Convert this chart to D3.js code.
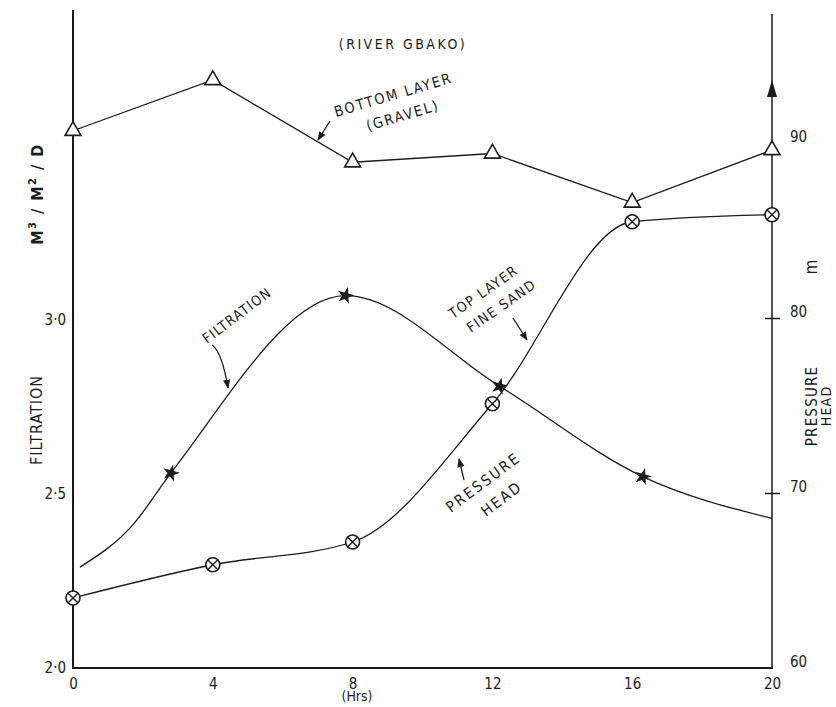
<!DOCTYPE html>
<html>
<head>
<meta charset="utf-8">
<script src="https://cdn.jsdelivr.net/npm/d3@7"></script>
<style>
  body { margin: 0; background: #fff; }
  svg text { font-family: "DejaVu Sans Condensed", "DejaVu Sans", sans-serif; fill: #1c1c1c; }
</style>
</head>
<body>
<svg id="chart" width="836" height="707"></svg>
<script>
'use strict'

// Hours of the run.
var hours      = [0, 4, 8, 12, 16, 20];
var hourLabels = ['0', '4', '8', '12', '16', '20'];

// Pressure head, m (right scale).
var bottomLayer = [90.7, 93.6, 88.9, 89.4, 86.6, 89.6];
var topLayer    = [64.0, 65.9, 67.2, 75.1, 85.5, 85.9];

// Filtration, m3/m2/d (left scale). Stars only on the marked readings.
var filtrationHours = [0.2, 1.7, 2.8, 7.8, 12.2, 16.3, 20];
var filtration      = [2.29, 2.41, 2.56, 3.07, 2.81, 2.55, 2.43];
var filtrationStars = [false, false, true, true, true, true, false];

var leftTicks  = [2.0, 2.5, 3.0];
var rightTicks = [60, 70, 80, 90];

var svg = d3.select('#chart');
var ink = '#1c1c1c';
var tickFont = '"DejaVu Sans Condensed", sans-serif';

var x  = d3.scaleLinear().domain([0, 20]).range([73, 772]);
var yL = d3.scaleLinear().domain([2, 3]).range([668, 320]);
var yR = d3.scaleLinear().domain([60, 90]).range([668, 143]);

// Arrow heads for the pointer lines.
svg.append('defs').append('marker')
   .attr('id', 'head')
   .attr('viewBox', '0 0 10 10')
   .attr('refX', 9).attr('refY', 5)
   .attr('markerWidth', 7).attr('markerHeight', 7)
   .attr('orient', 'auto')
   .append('path')
   .attr('d', 'M0,1 L10,5 L0,9 Z')
   .attr('fill', ink);

// Axis lines drawn by hand, the frame is open at the top.
svg.append('line').attr('x1', 73).attr('x2', 73).attr('y1', 10).attr('y2', 669)
   .attr('stroke', ink).attr('stroke-width', 2);
svg.append('line').attr('x1', 772).attr('x2', 772).attr('y1', 14).attr('y2', 669)
   .attr('stroke', ink).attr('stroke-width', 1.5);
svg.append('line').attr('x1', 72).attr('x2', 773).attr('y1', 668).attr('y2', 668)
   .attr('stroke', ink).attr('stroke-width', 2);

// Up arrow on the right scale.
svg.append('path')
   .attr('d', 'M772,80 L767,97 L777,97 Z')
   .attr('fill', ink);

var dotFmt = function(d) { return d3.format('.1f')(d).replace('.', '·'); };

var left = svg.append('g')
   .attr('transform', 'translate(73,0)')
   .call(d3.axisLeft(yL).tickValues(leftTicks).tickSize(0).tickPadding(7).tickFormat(dotFmt));
left.select('.domain').remove();
left.selectAll('text').attr('font-size', 15).style('font-family', tickFont);

var right = svg.append('g')
   .attr('transform', 'translate(772,0)')
   .call(d3.axisRight(yR).tickValues(rightTicks).tickSize(8).tickPadding(10).tickFormat(d3.format('d')));
right.select('.domain').remove();
right.selectAll('.tick line')
     .attr('x1', -7)
     .attr('stroke', ink)
     .attr('stroke-width', 1.5)
     .attr('display', function(d) { return (d === 70 || d === 80) ? null : 'none'; });
right.selectAll('text').attr('font-size', 15).attr('dy', '-0.1em').style('font-family', tickFont);

var bottom = svg.append('g')
   .attr('transform', 'translate(0,668)')
   .call(d3.axisBottom(x).tickValues(hours).tickSize(0).tickPadding(10)
          .tickFormat(function(d, i) { return hourLabels[i]; }));
bottom.select('.domain').remove();
bottom.selectAll('text').attr('font-size', 15).style('font-family', tickFont);

// Curves.
var pressureLine = d3.line()
   .x(function(d, i) { return x(hours[i]); })
   .y(function(d) { return yR(d); });

svg.append('path')
   .datum(bottomLayer)
   .attr('d', pressureLine.curve(d3.curveLinear))
   .attr('fill', 'none').attr('stroke', ink).attr('stroke-width', 1.3);

svg.append('path')
   .datum(topLayer)
   .attr('d', pressureLine.curve(d3.curveMonotoneX))
   .attr('fill', 'none').attr('stroke', ink).attr('stroke-width', 1.3);

var filtrationLine = d3.line()
   .x(function(d, i) { return x(filtrationHours[i]); })
   .y(function(d) { return yL(d); })
   .curve(d3.curveMonotoneX);

svg.append('path')
   .datum(filtration)
   .attr('d', filtrationLine)
   .attr('fill', 'none').attr('stroke', ink).attr('stroke-width', 1.3);

// Markers.
svg.append('g').selectAll('path')
   .data(bottomLayer).enter().append('path')
   .attr('transform', function(d, i) { return 'translate(' + x(hours[i]) + ',' + yR(d) + ')'; })
   .attr('d', d3.symbol(d3.symbolTriangle).size(110))
   .attr('fill', '#fff').attr('stroke', ink).attr('stroke-width', 1.6);

var circles = svg.append('g').selectAll('g')
   .data(topLayer).enter().append('g')
   .attr('transform', function(d, i) { return 'translate(' + x(hours[i]) + ',' + yR(d) + ')'; });
circles.append('circle').attr('r', 7)
   .attr('fill', '#fff').attr('stroke', ink).attr('stroke-width', 1.6);
circles.append('path').attr('d', d3.symbol(d3.symbolTimes).size(70))
   .attr('fill', 'none').attr('stroke', ink).attr('stroke-width', 1.4);

var starIdx = d3.range(filtration.length).filter(function(i) { return filtrationStars[i]; });
svg.append('g').selectAll('path')
   .data(starIdx).enter().append('path')
   .attr('transform', function(i) {
     return 'translate(' + x(filtrationHours[i]) + ',' + yL(filtration[i]) + ') rotate(15)';
   })
   .attr('d', d3.symbol(d3.symbolStar).size(90))
   .attr('fill', ink);

// Labels.
function label(txt, px, py, angle, size, anchor, spacing) {
  return svg.append('text')
     .attr('transform', 'translate(' + px + ',' + py + ') rotate(' + angle + ')')
     .attr('text-anchor', anchor || 'middle')
     .attr('font-size', size || 12)
     .attr('letter-spacing', spacing || 0)
     .text(txt);
}

function pointer(pathData) {
  svg.append('path').attr('d', pathData)
     .attr('fill', 'none').attr('stroke', ink).attr('stroke-width', 1.3)
     .attr('marker-end', 'url(#head)');
}

label('(RIVER  GBAKO)', 403, 49, 0, 14, 'middle', 2.5);

label('BOTTOM LAYER', 336, 117, -16.5, 14.5, 'start', 1.8);
label('(GRAVEL)', 368, 131, -16.5, 14.5, 'start', 1.8);
pointer('M330,121 L318,140');

label('FILTRATION', 207, 344, -37, 14, 'start', 1.2);
pointer('M212,345 Q222,352 228,388');

label('TOP LAYER', 453, 319, -35, 14, 'start', 1.4);
label('FINE SAND', 471, 333, -35, 14, 'start', 1.4);
pointer('M513,318 L527,340');

label('PRESSURE', 451, 513, -37, 15, 'start', 2.2);
label('HEAD', 486, 517, -37, 15, 'start', 2.2);
pointer('M464,480 L459,459');

// Axis titles.
var unit = svg.append('text')
   .attr('transform', 'translate(43,194) rotate(-90)')
   .attr('text-anchor', 'middle')
   .attr('font-size', 16)
   .attr('font-weight', 'bold')
   .attr('letter-spacing', 1.5);
unit.append('tspan').text('M');
unit.append('tspan').attr('dy', -7).attr('font-size', 11).text('3');
unit.append('tspan').attr('dy', 7).text(' / M');
unit.append('tspan').attr('dy', -7).attr('font-size', 11).text('2');
unit.append('tspan').attr('dy', 7).text(' / D');

label('FILTRATION', 42, 420, -90, 16, 'middle', 1);

label('m', 817, 267, -90, 17);
label('PRESSURE', 817, 406, -90, 15, 'middle', 1.2);
label('HEAD', 831, 406, -90, 14, 'middle', 1.2);

label('(Hrs)', 357, 701, 0, 14);
</script>
</body>
</html>
